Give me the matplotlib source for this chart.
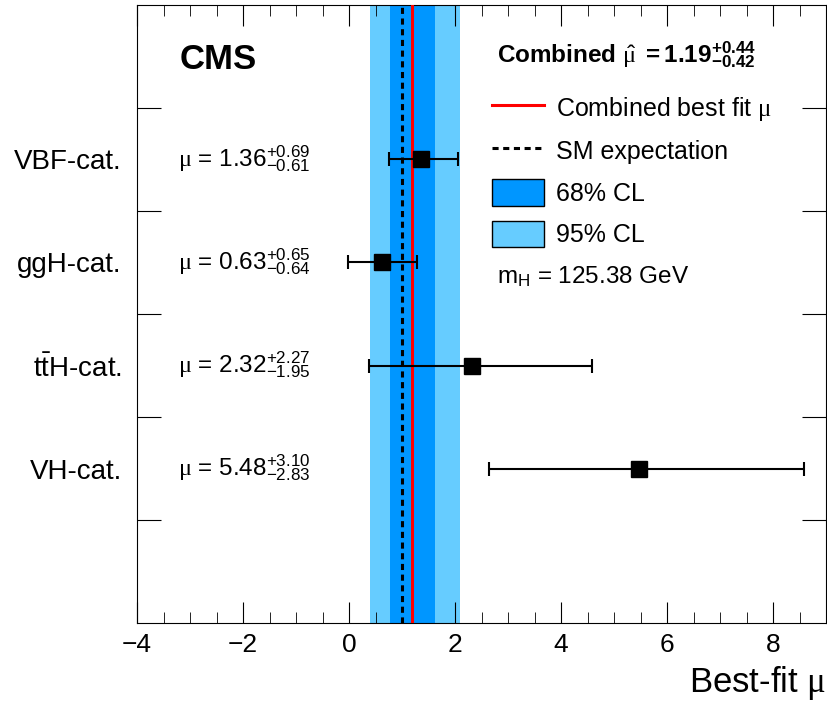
import matplotlib
matplotlib.use("Agg")
import matplotlib.pyplot as plt
from matplotlib.patches import Patch
from matplotlib.lines import Line2D

plt.rcParams['font.family'] = ['Liberation Sans', 'DejaVu Sans']
plt.rcParams['mathtext.fontset'] = 'custom'
plt.rcParams['mathtext.rm'] = 'Liberation Sans'
plt.rcParams['mathtext.it'] = 'Liberation Serif'
plt.rcParams['mathtext.bf'] = 'Liberation Sans:bold'

# data
categories = ['VH-cat.', r'$\mathrm{t\bar{t}H}$-cat.', 'ggH-cat.', 'VBF-cat.']
mu = [5.48, 2.32, 0.63, 1.36]
err_up = [3.10, 2.27, 0.65, 0.69]
err_dn = [2.83, 1.95, 0.64, 0.61]
ypos = [1.5, 2.5, 3.5, 4.5]

mu_comb = 1.19
comb_up = 0.44
comb_dn = 0.42
cl95 = (0.39, 2.09)
mu_sm = 1.0

fig = plt.figure(figsize=(8.28, 7.08), dpi=100)
ax = fig.add_axes([0.1655, 0.12, 0.8321, 0.873])

# bands
ax.axvspan(cl95[0], cl95[1], color='#66ccff', lw=0, zorder=1)
ax.axvspan(mu_comb - comb_dn, mu_comb + comb_up, color='#0096ff', lw=0, zorder=2)
ax.axvline(mu_sm, color='black', lw=2.2, ls=(0, (2, 1.5)), zorder=3)
ax.axvline(mu_comb, color='red', lw=2.2, zorder=3)

ax.errorbar(mu, ypos, xerr=[err_dn, err_up], fmt='s', color='black',
            markersize=12, elinewidth=1.5, capsize=5, capthick=1.5, zorder=5)

for m, u, d, y in zip(mu, err_up, err_dn, ypos):
    ax.text(-3.22, y, r'$\mu$ = %.2f$^{+%.2f}_{-%.2f}$' % (m, u, d),
            fontsize=17.5, va='center', ha='left')

ax.set_xlim(-4, 9)
ax.set_ylim(0, 6)
ax.set_xticks([-4, -2, 0, 2, 4, 6, 8])
ax.set_xticklabels(['\u22124', '\u22122', '0', '2', '4', '6', '8'])
ax.set_xticks([x * 0.5 for x in range(-8, 19)], minor=True)
ax.set_yticks([1, 2, 3, 4, 5])
ax.set_yticklabels([])
ax.set_yticks(ypos, minor=True)
ax.set_yticklabels(categories, minor=True, fontsize=20)

ax.tick_params(axis='x', which='both', direction='in', top=True, labelsize=19, pad=7)
ax.tick_params(axis='x', which='major', length=15)
ax.tick_params(axis='x', which='minor', length=8)
ax.tick_params(axis='y', which='major', direction='in', right=True, length=17)
ax.tick_params(axis='y', which='minor', length=0, pad=11)

ax.set_xlabel(r'Best-fit $\mu$', fontsize=25, loc='right', labelpad=5)

ax.text(0.062, 0.911, 'CMS', transform=ax.transAxes, fontsize=25,
        fontweight='bold', va='center')
ax.text(0.5225, 0.919,
        r'Combined $\hat{\mu}$ $\mathbf{= 1.19}^{\mathbf{+0.44}}_{\mathbf{-0.42}}$',
        transform=ax.transAxes, fontsize=17.5, fontweight='bold', va='center')

handles = [Line2D([], [], color='red', lw=2.2),
           Line2D([], [], color='black', lw=2.2, ls=(0, (2, 1.5))),
           Patch(facecolor='#0096ff', edgecolor='black', lw=1),
           Patch(facecolor='#66ccff', edgecolor='black', lw=1)]
labels = [r'Combined best fit $\mu$', 'SM expectation', '68% CL', '95% CL']
ax.legend(handles, labels, loc='upper left', bbox_to_anchor=(0.515, 0.856),
          frameon=False, fontsize=18, handlelength=2.1, handleheight=1.25,
          labelspacing=0.6, handletextpad=0.45, borderpad=0, borderaxespad=0)

ax.text(0.5225, 0.56, r'$\mathrm{m_{H}}$ = 125.38 GeV', transform=ax.transAxes,
        fontsize=17.5, va='center')

fig.savefig('out.png', dpi=100)
